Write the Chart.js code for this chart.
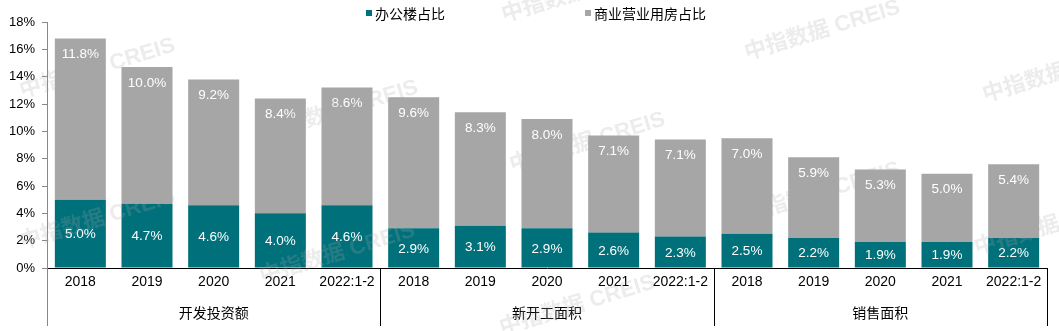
<!DOCTYPE html>
<html><head><meta charset="utf-8">
<script src="https://cdn.jsdelivr.net/npm/chart.js@4/dist/chart.umd.min.js"></script>
<style>html,body{margin:0;padding:0;background:#fff;}#wrap{width:1059px;height:331px;}</style>
</head><body><div id="wrap"><canvas id="c" width="1059" height="331"></canvas></div>
<script>
const years = ['2018','2019','2020','2021','2022:1-2','2018','2019','2020','2021','2022:1-2','2018','2019','2020','2021','2022:1-2'];
const groups = ['开发投资额','新开工面积','销售面积'];
const officeShare = [5.0,4.7,4.6,4.0,4.6,2.9,3.1,2.9,2.6,2.3,2.5,2.2,1.9,1.9,2.2];
const commercialShare = [11.8,10.0,9.2,8.4,8.6,9.6,8.3,8.0,7.1,7.1,7.0,5.9,5.3,5.0,5.4];
const seriesNames = ['办公楼占比','商业营业用房占比'];
const yMin = 0, yMax = 18, yStep = 2;

const FONT = "'Liberation Sans', Arial, 'Noto Sans CJK SC', sans-serif";
const TEAL = '#00707A', GREY = '#A6A6A6';
const watermarkSpots = [[22,98],[22,249],[265,140],[262,283],[504,22],[512,172],[502,335],[747,60],[747,222],[985,102],[977,255]];

const overlay = {
  id: 'overlay',
  afterDatasetsDraw(chart) {
    const ctx = chart.ctx;
    ctx.save();
    ctx.font = '13.5px ' + FONT;
    ctx.fillStyle = '#fff';
    ctx.textAlign = 'center';
    ctx.textBaseline = 'middle';
    chart.data.datasets.forEach((ds, di) => {
      const meta = chart.getDatasetMeta(di);
      meta.data.forEach((el, i) => {
        const v = ds.data[i];
        const txt = v.toFixed(1) + '%';
        let y;
        if (di === 0) y = (el.y + el.base) / 2;
        else y = el.y + 15;
        ctx.fillText(txt, el.x, y + 1);
      });
    });
    ctx.restore();
  },
  afterDraw(chart) {
    const ctx = chart.ctx;
    const x = chart.scales.x;
    const yb = chart.scales.y.bottom;
    const bottom = 326;
    ctx.save();
    ctx.strokeStyle = '#888';
    ctx.lineWidth = 1;
    ctx.beginPath();
    ctx.moveTo(Math.round(x.left) + 0.5, yb);
    ctx.lineTo(Math.round(x.left) + 0.5, bottom);
    ctx.stroke();
    ctx.strokeStyle = '#000';
    const per = years.length / groups.length;
    const bounds = [x.left];
    for (let g = 1; g < groups.length; g++) {
      bounds.push((x.getPixelForValue(g * per - 1) + x.getPixelForValue(g * per)) / 2);
    }
    bounds.push(x.right);
    for (let i = 1; i < bounds.length; i++) {
      const bx = Math.round(bounds[i]) + 0.5;
      ctx.beginPath();
      ctx.moveTo(bx, yb);
      ctx.lineTo(bx, bottom);
      ctx.stroke();
    }
    ctx.font = '14px ' + FONT;
    ctx.fillStyle = '#000';
    ctx.textAlign = 'center';
    ctx.textBaseline = 'middle';
    groups.forEach((g, i) => {
      ctx.fillText(g, (bounds[i] + bounds[i + 1]) / 2, 314);
    });
    const legendX = [366, 585];
    [TEAL, GREY].forEach((c, i) => {
      ctx.fillStyle = c;
      ctx.fillRect(legendX[i], 10, 6, 6);
      ctx.fillStyle = '#000';
      ctx.textAlign = 'left';
      ctx.fillText(seriesNames[i], legendX[i] + 9, 15);
    });
    ctx.font = 'bold 22px ' + FONT;
    ctx.fillStyle = 'rgba(170,170,170,0.22)';
    ctx.textAlign = 'left';
    ctx.textBaseline = 'alphabetic';
    watermarkSpots.forEach(([wx, wy]) => {
      ctx.save();
      ctx.translate(wx, wy);
      ctx.rotate(-17 * Math.PI / 180);
      ctx.fillText('中指数据 CREIS', 0, 0);
      ctx.restore();
    });
    ctx.restore();
  }
};

new Chart(document.getElementById('c'), {
  type: 'bar',
  data: {
    labels: years,
    datasets: [
      { label: seriesNames[0], data: officeShare, backgroundColor: TEAL, stack: 's' },
      { label: seriesNames[1], data: commercialShare, backgroundColor: GREY, stack: 's' }
    ]
  },
  options: {
    responsive: false,
    animation: false,
    devicePixelRatio: 1,
    layout: { padding: { top: 22, right: 12, left: 0, bottom: 0 } },
    datasets: { bar: { categoryPercentage: 1, barPercentage: 0.765 } },
    plugins: { legend: { display: false }, tooltip: { enabled: false } },
    scales: {
      x: {
        stacked: true,
        afterFit(s) { s.height = 63; },
        grid: { display: false, drawTicks: false },
        border: { display: true, color: '#000', width: 1 },
        ticks: { color: '#000', font: { family: FONT, size: 14 }, padding: 6, maxRotation: 0, autoSkip: false }
      },
      y: {
        stacked: true,
        min: yMin, max: yMax,
        afterFit(s) { s.width = 47; },
        grid: { drawOnChartArea: false, drawTicks: true, tickLength: 5, color: '#888' },
        border: { display: true, color: '#888', width: 1 },
        ticks: { stepSize: yStep, color: '#000', font: { family: FONT, size: 13 }, padding: 7, callback: v => v + '%' }
      }
    }
  },
  plugins: [overlay]
});
</script></body></html>
